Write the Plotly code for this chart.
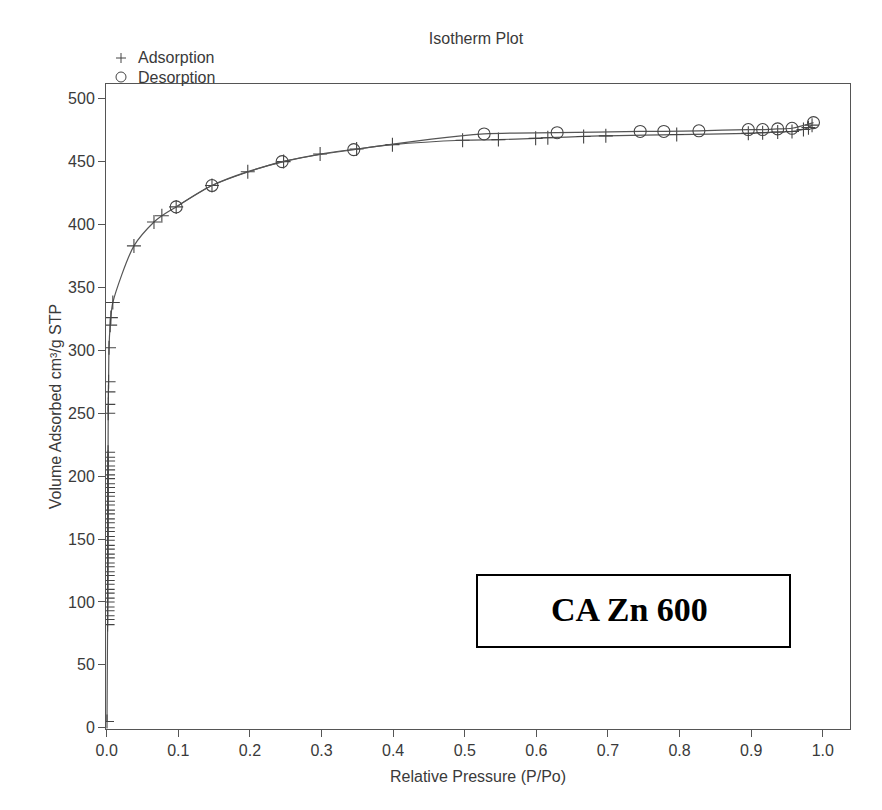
import plotly.graph_objects as go

# Adsorption branch (relative pressure P/Po, volume adsorbed cm3/g STP)
ads_p = [0.0004,
         0.0012, 0.0012, 0.0012, 0.0012, 0.0012, 0.0013, 0.0013, 0.0013, 0.0013, 0.0013,
         0.0014, 0.0014, 0.0014, 0.0014, 0.0014, 0.0015, 0.0015, 0.0015, 0.0015, 0.0015,
         0.0016, 0.0016, 0.0016, 0.0016, 0.0016, 0.0017, 0.0017, 0.0017, 0.0017, 0.0017,
         0.0018, 0.0018, 0.0018, 0.0018, 0.0018, 0.0019, 0.0019, 0.0019, 0.0019, 0.0019,
         0.0021, 0.0022, 0.0024, 0.0026, 0.0032, 0.0048, 0.0058, 0.0085,
         0.038, 0.066, 0.077, 0.097, 0.147, 0.197, 0.247, 0.298, 0.349, 0.399,
         0.497, 0.547, 0.599, 0.616, 0.666, 0.697, 0.796, 0.896, 0.916, 0.937,
         0.957, 0.973, 0.980, 0.985]
ads_v = [5,
         82, 86, 89, 93, 96, 100, 103, 107, 110, 114,
         117, 121, 124, 128, 131, 135, 138, 142, 145, 149,
         152, 156, 159, 163, 166, 170, 173, 177, 180, 184,
         187, 191, 194, 198, 201, 205, 208, 212, 215, 219,
         250, 257, 267, 275, 302, 320, 326, 338,
         383, 402, 407, 414, 431, 442, 450, 456, 460, 463.5,
         467, 467.5, 468.5, 469, 470, 470.5, 471.5, 472.5, 473, 473.5,
         474, 475.5, 477, 479]

# Desorption branch
des_p = [0.987, 0.957, 0.937, 0.916, 0.896, 0.827, 0.778, 0.745, 0.629, 0.527,
         0.345, 0.245, 0.147, 0.097]
des_v = [481, 476.5, 476, 475.5, 475.5, 474.5, 474, 474, 473, 472,
         459.5, 450, 431, 414]

x_ticks = [0.0, 0.1, 0.2, 0.3, 0.4, 0.5, 0.6, 0.7, 0.8, 0.9, 1.0]
x_tick_text = ["0.0", "0.1", "0.2", "0.3", "0.4", "0.5", "0.6", "0.7", "0.8", "0.9", "1.0"]
y_ticks = [0, 50, 100, 150, 200, 250, 300, 350, 400, 450, 500]
series_names = ["Adsorption", "Desorption"]

W, H = 882, 810
OFF = 8  # page body margin
ML, MR, MT, MB = 106 - OFF, 32 + OFF, 84 - OFF, 81 + OFF
PW, PH = W - ML - MR, H - MT - MB

LINE = "#555555"
MARK = "#444444"
TXT = "#3a3a3a"
FONT = "Liberation Sans, Arial, sans-serif"
FS = 16


def px_x(p):
    return (p - OFF - ML) / PW


def px_y(p):
    return 1 - (p - OFF - MT) / PH


fig = go.Figure()

fig.add_trace(go.Scatter(
    x=ads_p, y=ads_v, mode="lines+markers", name=series_names[0], showlegend=False,
    line=dict(color=LINE, width=1.2, shape="spline", smoothing=0.8),
    marker=dict(symbol="cross-thin", size=10, line=dict(color=MARK, width=1.1)),
))
fig.add_trace(go.Scatter(
    x=des_p, y=des_v, mode="lines+markers", name=series_names[1], showlegend=False,
    line=dict(color=LINE, width=1.2, shape="spline", smoothing=0.8),
    marker=dict(symbol="circle-open", size=12, color=MARK, line=dict(color=MARK, width=1.1)),
))

# legend drawn as symbols + text (compact spacing as in the original)
lx, ly1, ly2 = 121, 58, 77
fig.add_shape(type="line", xref="paper", yref="paper",
              x0=px_x(lx - 5), x1=px_x(lx + 5), y0=px_y(ly1), y1=px_y(ly1),
              line=dict(color=MARK, width=1))
fig.add_shape(type="line", xref="paper", yref="paper",
              x0=px_x(lx), x1=px_x(lx), y0=px_y(ly1 - 5), y1=px_y(ly1 + 5),
              line=dict(color=MARK, width=1))
fig.add_shape(type="circle", xref="paper", yref="paper",
              x0=px_x(lx - 5), x1=px_x(lx + 5), y0=px_y(ly2 - 5), y1=px_y(ly2 + 5),
              line=dict(color=MARK, width=1))
for name, ly in zip(series_names, [ly1, ly2]):
    fig.add_annotation(xref="paper", yref="paper", x=px_x(136), y=px_y(ly),
                       text=name, showarrow=False, xanchor="left", yanchor="middle",
                       font=dict(size=FS, color=TXT))

fig.add_shape(type="rect", xref="paper", yref="paper",
              x0=px_x(477), x1=px_x(790), y0=px_y(647), y1=px_y(575),
              line=dict(color="black", width=2), fillcolor="white")
fig.add_annotation(xref="paper", yref="paper", x=px_x(629), y=px_y(609),
                   text="<b>CA Zn 600</b>", showarrow=False,
                   xanchor="center", yanchor="middle",
                   font=dict(family="Liberation Serif, Times New Roman, serif", size=34, color="black"))

fig.update_layout(
    width=W, height=H,
    margin=dict(l=ML, r=MR, t=MT, b=MB),
    paper_bgcolor="white", plot_bgcolor="white",
    showlegend=False,
    font=dict(family=FONT, size=FS, color=TXT),
    title=dict(text="Isotherm Plot", x=px_x(476), xref="paper", xanchor="center",
               y=1 - (38 - OFF) / H, yanchor="middle", font=dict(size=FS, color=TXT)),
    xaxis=dict(range=[-0.001, 1.038], tickvals=x_ticks, ticktext=x_tick_text,
               ticks="outside", ticklen=7, tickcolor=LINE, tickwidth=1,
               showline=True, linecolor=LINE, linewidth=1, mirror=True,
               showgrid=False, zeroline=False,
               tickfont=dict(size=FS, color=TXT),
               title=dict(text="Relative Pressure (P/Po)", standoff=12,
                          font=dict(size=FS, color=TXT))),
    yaxis=dict(range=[-1, 511.7], tickvals=y_ticks,
               ticks="outside", ticklen=7, tickcolor=LINE, tickwidth=1,
               showline=True, linecolor=LINE, linewidth=1, mirror=True,
               showgrid=False, zeroline=False,
               tickfont=dict(size=FS, color=TXT),
               title=dict(text="Volume Adsorbed cm³/g STP", standoff=2,
                          font=dict(size=FS, color=TXT))),
)

fig.write_html("out.html")
